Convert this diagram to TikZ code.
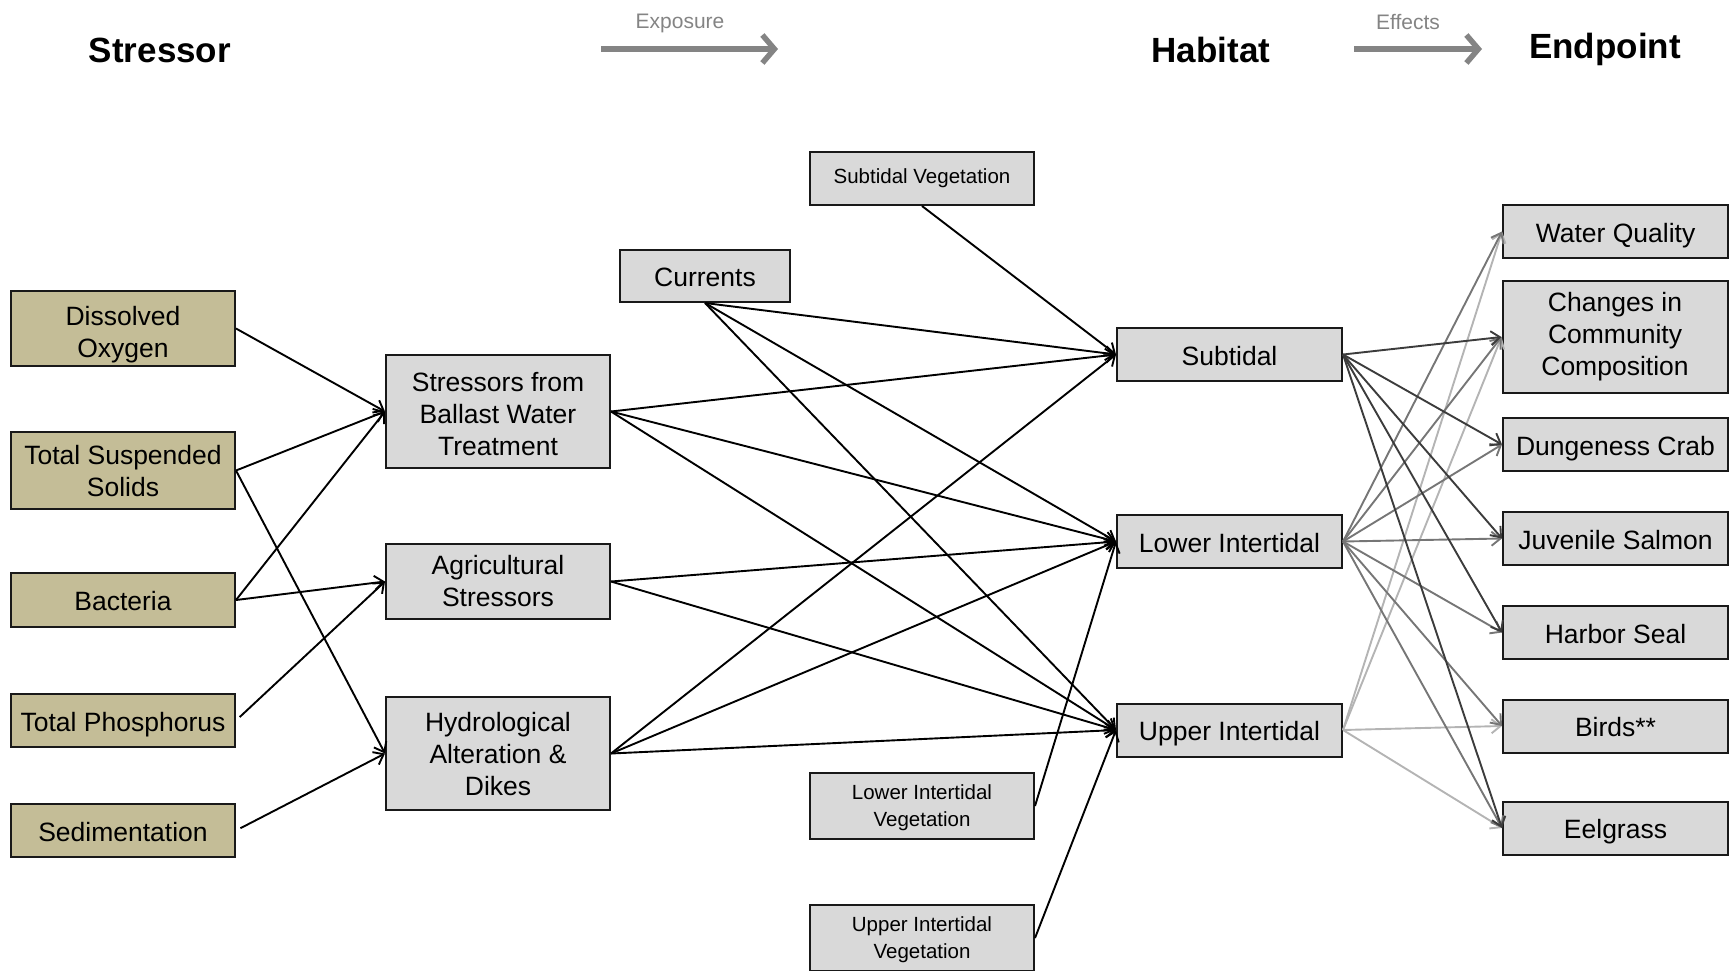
\documentclass[tikz,border=0pt]{standalone}
\usepackage{fontspec}
\setmainfont{Liberation Sans}
\usetikzlibrary{arrows.meta}
\definecolor{tanfill}{HTML}{C4BD97}
\definecolor{boxgray}{HTML}{D9D9D9}
\definecolor{edgedark}{HTML}{3C3C3C}
\definecolor{edgemid}{HTML}{767676}
\definecolor{edgelight}{HTML}{B4B4B4}
\definecolor{flowgray}{HTML}{848484}
\begin{document}
\begin{tikzpicture}[x=1pt,y=-1pt,
  box/.style={draw=black!90, line width=2pt, fill=boxgray, align=center,
    inner sep=0pt, minimum width=224pt, minimum height=53pt,
    font=\fontsize{26.5}{32}\selectfont},
  oneline/.style={text height=21pt, text depth=0pt},
  multiline/.style={text depth=0pt},
  stressbox/.style={box, fill=tanfill},
  vegbox/.style={box, font=\fontsize{20.5}{27}\selectfont},
  heading/.style={font=\fontsize{35}{40}\selectfont\bfseries},
  flowlabel/.style={text=flowgray, font=\fontsize{21}{24}\selectfont},
  flowarrow/.style={draw=flowgray, line width=5.5pt,
    -{Straight Barb[length=12pt,width=28pt]}},
  edge/.style={draw=black, line width=1.9pt,
    -{Straight Barb[length=9pt,width=14pt]}},
  fxdark/.style={edge, draw=edgedark},
  fxmid/.style={edge, draw=edgemid},
  fxlight/.style={edge, draw=edgelight}]
\useasboundingbox (0,0) rectangle (1730,970);

% column headings and flow arrows
\node[heading] (hStressor) at (160,50) {Stressor};
\node[heading] (hHabitat) at (1211,50) {Habitat};
\node[heading] (hEndpoint) at (1605,49) {Endpoint};
\node[flowlabel] (lExposure) at (680,23) {Exposure};
\node[flowlabel] (lEffects) at (1408,22) {Effects};
\coordinate (expA) at (601,49);
\coordinate (expB) at (778,49);
\coordinate (effA) at (1354,49);
\coordinate (effB) at (1482,49);
\draw[flowarrow] (expA) -- (expB);
\draw[flowarrow] (effA) -- (effB);

% stressors
\node[stressbox, multiline, text height=57pt, minimum height=75pt] (DO) at (123,328.5) {Dissolved\\Oxygen};
\node[stressbox, multiline, minimum height=77pt] (TSS) at (123,470.5) {Total Suspended\\Solids};
\node[stressbox, oneline, minimum height=54pt] (Bact) at (123,600) {Bacteria};
\node[stressbox, oneline] (TP) at (123,720.5) {Total Phosphorus};
\node[stressbox, oneline] (Sed) at (123,830.5) {Sedimentation};

% stressor sources
\node[box, multiline, text height=87pt, minimum height=113pt] (Ballast) at (498,411.5) {Stressors from\\Ballast Water\\Treatment};
\node[box, minimum height=75pt] (Agri) at (498,581.5) {Agricultural\\Stressors};
\node[box, multiline, minimum height=113pt] (Hydro) at (498,753.5) {Hydrological\\Alteration \&\\Dikes};
\node[box, oneline, minimum width=170pt, minimum height=52pt] (Curr) at (705,276) {Currents};

% vegetation
\node[vegbox] (SubVeg) at (922,178.5) {Subtidal Vegetation};
\node[vegbox, multiline, minimum height=66pt] (LowVeg) at (922,806) {Lower Intertidal\\Vegetation};
\node[vegbox, multiline, minimum height=66pt] (UpVeg) at (922,938) {Upper Intertidal\\Vegetation};

% habitats
\node[box, oneline, minimum width=225pt] (Sub) at (1229.5,354.5) {Subtidal};
\node[box, oneline, minimum width=225pt] (Low) at (1229.5,541.5) {Lower Intertidal};
\node[box, oneline, minimum width=225pt] (Up) at (1229.5,730) {Upper Intertidal};

% endpoints
\node[box, oneline, minimum width=225pt] (WQ) at (1615.5,231.5) {Water Quality};
\node[box, minimum width=225pt, minimum height=112pt] (CCC) at (1615,337) {Changes in\\Community\\Composition};
\node[box, oneline, minimum width=225pt] (Crab) at (1615.5,444.5) {Dungeness Crab};
\node[box, oneline, minimum width=225pt] (Salmon) at (1615.5,538.5) {Juvenile Salmon};
\node[box, oneline, minimum width=225pt] (Seal) at (1615.5,632.5) {Harbor Seal};
\node[box, oneline, minimum width=225pt] (Birds) at (1615.5,726) {Birds**};
\node[box, oneline, minimum width=225pt] (Eel) at (1615.5,828) {Eelgrass};

% stressors to sources
\draw[edge] (DO.east) -- (Ballast.west);
\draw[edge] (TSS.east) -- (Ballast.west);
\draw[edge] (TSS.east) -- (Hydro.west);
\draw[edge] (Bact.east) -- (Ballast.west);
\draw[edge] (Bact.east) -- (Agri.west);
\draw[edge, shorten <=5pt] (TP.east) -- (Agri.west);
\draw[edge, shorten <=5pt] (Sed.east) -- (Hydro.west);

% sources to habitats
\draw[edge] (Curr.south) -- (Sub.west);
\draw[edge] (Curr.south) -- (Low.west);
\draw[edge] (Curr.south) -- (Up.west);
\draw[edge] (Ballast.east) -- (Sub.west);
\draw[edge] (Ballast.east) -- (Low.west);
\draw[edge] (Ballast.east) -- (Up.west);
\draw[edge] (Agri.east) -- (Low.west);
\draw[edge] (Agri.east) -- (Up.west);
\draw[edge] (Hydro.east) -- (Sub.west);
\draw[edge] (Hydro.east) -- (Low.west);
\draw[edge] (Hydro.east) -- (Up.west);
\draw[edge] (SubVeg.south) -- (Sub.west);
\draw[edge] (LowVeg.east) -- (Low.west);
\draw[edge] (UpVeg.east) -- (Up.west);

% habitats to endpoints
\draw[fxlight] (Up.east) -- (WQ.west);
\draw[fxlight] (Up.east) -- (CCC.west);
\draw[fxlight] (Up.east) -- (Birds.west);
\draw[fxlight] (Up.east) -- (Eel.west);
\draw[fxmid] (Low.east) -- (WQ.west);
\draw[fxmid] (Low.east) -- (CCC.west);
\draw[fxmid] (Low.east) -- (Crab.west);
\draw[fxmid] (Low.east) -- (Salmon.west);
\draw[fxmid] (Low.east) -- (Seal.west);
\draw[fxmid] (Low.east) -- (Birds.west);
\draw[fxmid] (Low.east) -- (Eel.west);
\draw[fxdark] (Sub.east) -- (CCC.west);
\draw[fxdark] (Sub.east) -- (Crab.west);
\draw[fxdark] (Sub.east) -- (Salmon.west);
\draw[fxdark] (Sub.east) -- (Seal.west);
\draw[fxdark] (Sub.east) -- (Eel.west);
\end{tikzpicture}
\end{document}
